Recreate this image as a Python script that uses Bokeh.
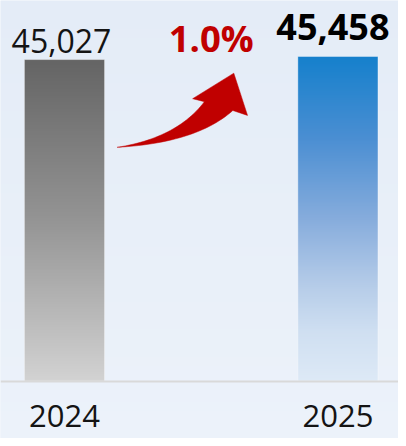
import numpy as np
from bokeh.plotting import figure
from bokeh.models import Range1d, ColumnDataSource, FixedTicker
from bokeh.core.properties import value
from bokeh.embed import file_html
from bokeh.resources import INLINE

# ---- data ----
categories = ["2024", "2025"]
values = [45027, 45458]
value_labels = ["45,027", "45,458"]

xs = list(range(len(categories)))
change_pct = (values[1] - values[0]) / values[0] * 100
change_label = f"{change_pct:.1f}%"

# ---- layout constants ----
W, H = 398, 438
BAR_W = 0.293
X0, X1 = -0.234, 1.2216
Y0, Y1 = -8055, 53304
FONT = value("Open Sans")

p = figure(width=W, height=H, output_backend="svg", toolbar_location=None,
           x_range=Range1d(X0, X1), y_range=Range1d(Y0, Y1),
           min_border_left=0, min_border_right=0, min_border_top=0, min_border_bottom=0)
p.background_fill_color = "#e8eff9"
p.border_fill_color = "#e8eff9"
p.outline_line_color = None
p.grid.visible = False
p.yaxis.visible = False


def hex_rgb(h):
    h = h.lstrip("#")
    return [int(h[i:i + 2], 16) for i in (0, 2, 4)]


def gradient(stops, n):
    """stops: list of (t from top, colour). returns image rows bottom->top"""
    ts = np.array([s[0] for s in stops])
    cols = np.array([hex_rgb(s[1]) for s in stops], dtype=float)
    t = np.linspace(1, 0, n)  # row 0 is bottom
    img = np.zeros((n, 1, 4), dtype=np.uint8)
    for c in range(3):
        img[:, 0, c] = np.interp(t, ts, cols[:, c]).round().astype(np.uint8)
    img[:, 0, 3] = 255
    return img.view(np.uint32).reshape(n, 1)


# background gradient
bg = gradient([(0, "#e4ecf7"), (1, "#ecf2fa")], H)
p.image_rgba(image=[bg], x=X0, y=Y0, dw=X1 - X0, dh=Y1 - Y0)

# bar gradients
bar_stops = [
    [(0, "#646464"), (0.5, "#949494"), (1, "#d2d2d2")],
    [(0, "#1580cc"), (0.25, "#4a8ed2"), (0.5, "#86acdc"), (0.7, "#b4cbe8"),
     (0.85, "#cfdff1"), (1, "#dde9f6")],
]
for i, v in enumerate(values):
    p.image_rgba(image=[gradient(bar_stops[i], 340)], x=xs[i] - BAR_W / 2, y=0,
                 dw=BAR_W, dh=v)

src = ColumnDataSource(dict(x=xs, top=values, cat=categories, label=value_labels))
p.vbar(x="x", top="top", width=BAR_W, source=src, fill_color=None,
       line_color="#ffffff", line_alpha=0.35, line_width=1)

# value labels
p.text(x=[xs[0]], y=[values[0]], text=[value_labels[0]], text_font=FONT,
       text_font_size="32px", text_color="#141414", text_align="center",
       text_baseline="alphabetic", x_offset=-3, y_offset=-19)
p.text(x=[xs[1]], y=[values[1]], text=[value_labels[1]], text_font=FONT,
       text_font_size="36px", text_font_style="bold", text_color="#000000",
       text_align="center", text_baseline="alphabetic", x_offset=-5, y_offset=-30)

# change label
mid_x = (xs[0] + xs[1]) / 2
p.text(x=[mid_x], y=[max(values)], text=[change_label], text_font=FONT,
       text_font_size="36.5px", text_font_style="bold", text_color="#c00000",
       text_align="center", text_baseline="alphabetic", x_offset=10, y_offset=-19)


# curved arrow (decoration, defined in reference-image pixels, mapped to data space)
def dx(px):
    return X0 + px / 406 * (X1 - X0)


def dy(py):
    return Y1 - py / 446 * (Y1 - Y0)


def qbez(p0, c, p2, n=30):
    t = np.linspace(0, 1, n)
    x = (1 - t) ** 2 * p0[0] + 2 * (1 - t) * t * c[0] + t ** 2 * p2[0]
    y = (1 - t) ** 2 * p0[1] + 2 * (1 - t) * t * c[1] + t ** 2 * p2[1]
    return list(x), list(y)


ux, uy = qbez((119, 149.5), (180, 140), (208, 103))
lx, ly = qbez((237, 112), (200, 145), (119, 149.5))
ax = ux + [196, 238, 252] + lx
ay = uy + [100, 74, 117] + ly
p.patch([dx(v) for v in ax], [dy(v) for v in ay], fill_color="#c00000",
        line_color="#c00000", line_width=0.5)

# x axis drawn at y=0
xaxis = p.xaxis[0]
xaxis.fixed_location = 0
xaxis.ticker = FixedTicker(ticks=xs)
xaxis.major_label_overrides = {x: c for x, c in zip(xs, categories)}
xaxis.axis_line_color = "#d9d9d9"
xaxis.axis_line_width = 2
xaxis.major_tick_line_color = None
xaxis.minor_tick_line_color = None
xaxis.major_label_text_font = "Open Sans"
xaxis.major_label_text_font_size = "31px"
xaxis.major_label_text_color = "#141414"
xaxis.major_label_standoff = 18

open("out.html", "w").write(file_html(p, INLINE))
